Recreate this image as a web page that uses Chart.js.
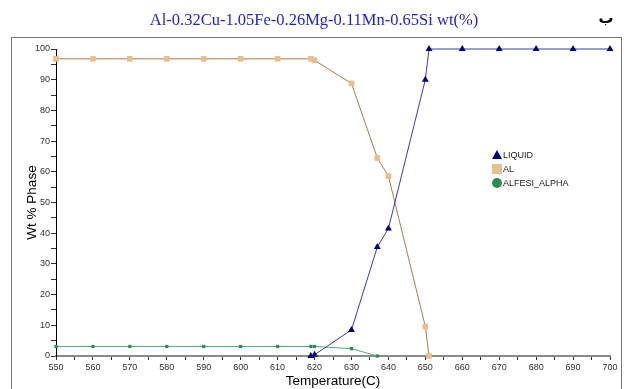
<!DOCTYPE html>
<html>
<head>
<meta charset="utf-8">
<script src="https://cdn.jsdelivr.net/npm/chart.js@4"></script>
<style>
  html, body { margin: 0; padding: 0; background: #fff; }
  #wrap { width: 627px; height: 389px; position: relative; }
</style>
</head>
<body>
<div id="wrap"><canvas id="phaseChart" width="627" height="389"></canvas></div>
<script>
// data
const chartTitle = 'Al-0.32Cu-1.05Fe-0.26Mg-0.11Mn-0.65Si wt(%)';
const liquidTemps = [619, 620, 630, 637, 640, 650, 651, 660, 670, 680, 690, 700];
const liquidVals  = [0, 0.4, 8.5, 35.5, 41.5, 90, 100, 100, 100, 100, 100, 100];
const alTemps = [550, 560, 570, 580, 590, 600, 610, 619, 620, 630, 637, 640, 650, 651];
const alVals  = [96.8, 96.8, 96.8, 96.8, 96.8, 96.8, 96.8, 96.8, 96.3, 88.8, 64.5, 58.6, 9.6, 0];
const alfesiTemps = [550, 560, 570, 580, 590, 600, 610, 619, 620, 630, 637];
const alfesiVals  = [3.1, 3.1, 3.1, 3.1, 3.1, 3.1, 3.1, 3.1, 3.1, 2.4, 0];
const xTicks = [550, 700, 10];
const yTicks = [0, 100, 10];

function toPoints(xs, ys) {
    return xs.map((x, i) => ({ x: x, y: ys[i] }));
}

// frame, title and the small letter in the corner
const framePlugin = {
    id: 'frame',
    beforeDraw(chart) {
        const c = chart.ctx;
        c.save();
        c.fillStyle = '#fff';
        c.fillRect(0, 0, chart.width, chart.height);
        c.strokeStyle = '#777';
        c.lineWidth = 1;
        c.strokeRect(11.5, 37.5, 610, 360);
        c.fillStyle = '#1f1fd0';
        c.font = '16.5px "Liberation Serif", "Times New Roman", serif';
        c.textAlign = 'center';
        c.textBaseline = 'alphabetic';
        c.fillText(chartTitle, 314, 25);
        c.fillStyle = '#000';
        c.font = 'bold 15px "DejaVu Sans", sans-serif';
        c.fillText('ب', 606, 23);
        c.restore();
    }
};

// legend drawn inside the plot like the original
const legendPlugin = {
    id: 'insideLegend',
    afterDatasetsDraw(chart) {
        const c = chart.ctx;
        const shapes = ['triangle', 'rect', 'circle'];
        c.save();
        c.font = '9px "Liberation Sans", Arial, sans-serif';
        c.textBaseline = 'middle';
        c.textAlign = 'left';
        chart.data.datasets.forEach((ds, i) => {
            const y = 155 + i * 14;
            c.fillStyle = ds.pointBackgroundColor;
            c.beginPath();
            if (shapes[i] === 'rect') {
                c.fillRect(492, y - 5, 10, 10);
            } else if (shapes[i] === 'circle') {
                c.arc(497, y, 5, 0, Math.PI * 2);
                c.fill();
            } else {
                c.moveTo(497, y - 5);
                c.lineTo(502, y + 4);
                c.lineTo(492, y + 4);
                c.closePath();
                c.fill();
            }
            c.fillStyle = '#222';
            c.fillText(ds.label, 503, y + 1);
        });
        c.restore();
    }
};

const ctx = document.getElementById('phaseChart').getContext('2d');
new Chart(ctx, {
    type: 'line',
    data: {
        datasets: [{
            label: 'LIQUID',
            data: toPoints(liquidTemps, liquidVals),
            borderColor: '#3a3ab4',
            borderWidth: 1,
            pointStyle: 'triangle',
            pointRadius: 4,
            pointBackgroundColor: '#000080',
            pointBorderColor: '#000080',
            pointBorderWidth: 0,
            tension: 0
        }, {
            label: 'AL',
            data: toPoints(alTemps, alVals),
            borderColor: '#b07a4e',
            borderWidth: 1,
            pointStyle: 'rect',
            pointRadius: 4,
            pointBackgroundColor: '#e6c08e',
            pointBorderColor: '#e6c08e',
            pointBorderWidth: 0,
            tension: 0
        }, {
            label: 'ALFESI_ALPHA',
            data: toPoints(alfesiTemps, alfesiVals),
            borderColor: '#5aa97a',
            borderWidth: 1,
            pointStyle: 'rect',
            pointRadius: 2.3,
            pointBackgroundColor: '#2e8b57',
            pointBorderColor: '#2e8b57',
            pointBorderWidth: 0,
            tension: 0
        }]
    },
    options: {
        responsive: false,
        animation: false,
        clip: false,
        layout: { padding: { left: 12, right: 17, top: 49, bottom: 0 } },
        plugins: {
            legend: { display: false },
            tooltip: { enabled: false }
        },
        scales: {
            x: {
                type: 'linear',
                min: xTicks[0],
                max: xTicks[1],
                afterFit(s) { s.height = 33; },
                border: { color: '#8a8a8a', width: 2 },
                grid: { drawOnChartArea: false, color: '#333', tickLength: 4 },
                ticks: {
                    stepSize: xTicks[2] / 2,
                    autoSkip: false,
                    maxRotation: 0,
                    padding: 2,
                    color: '#333',
                    font: { family: '"Liberation Sans", Arial, sans-serif', size: 9 },
                    callback: v => (v % xTicks[2] === 0 ? v : '')
                },
                title: {
                    display: true,
                    text: 'Temperature(C)',
                    color: '#000',
                    padding: { top: 0, bottom: 0 },
                    font: { family: '"Liberation Sans", Arial, sans-serif', size: 13.5 }
                }
            },
            y: {
                min: yTicks[0],
                max: yTicks[1],
                afterFit(s) { s.width = 44; },
                border: { color: '#000', width: 1 },
                grid: { drawOnChartArea: false, color: '#333', tickLength: 5 },
                ticks: {
                    stepSize: yTicks[2] / 2,
                    autoSkip: false,
                    padding: 1,
                    color: '#333',
                    font: { family: '"Liberation Sans", Arial, sans-serif', size: 9 },
                    callback: v => (v % yTicks[2] === 0 ? v : '')
                },
                title: {
                    display: true,
                    text: 'Wt % Phase',
                    color: '#000',
                    padding: { top: 12, bottom: 0 },
                    font: { family: '"Liberation Sans", Arial, sans-serif', size: 13.5 }
                }
            }
        }
    },
    plugins: [framePlugin, legendPlugin]
});
</script>
</body>
</html>
